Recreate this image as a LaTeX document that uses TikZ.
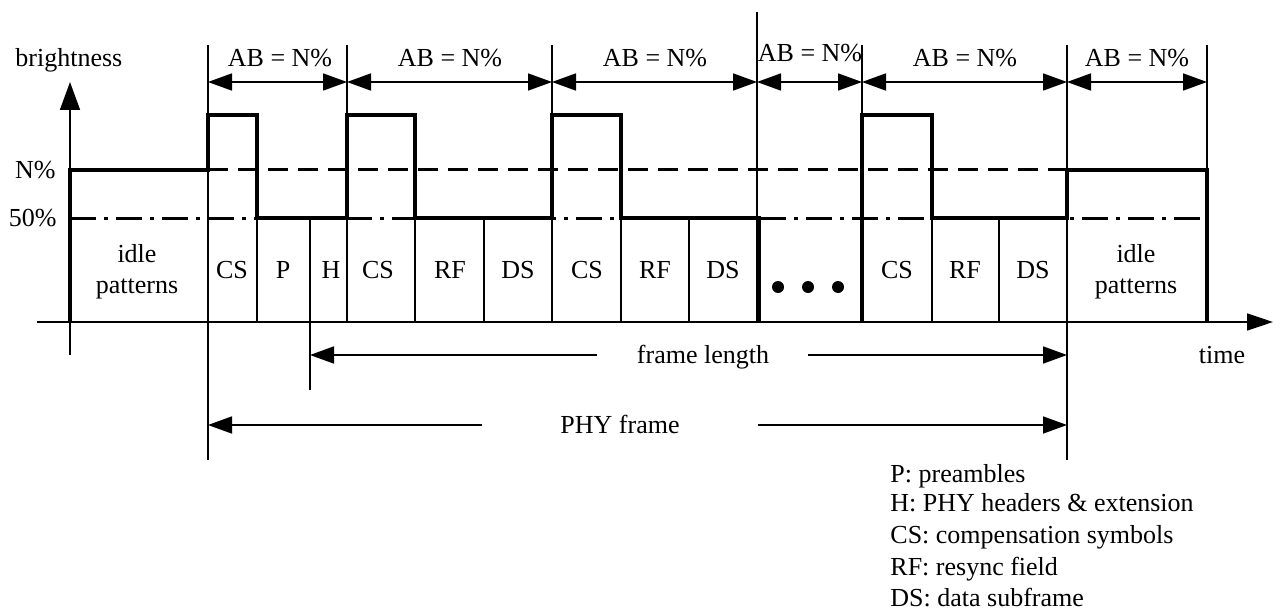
\documentclass[tikz,border=0pt]{standalone}
\usepackage{fontspec}
\setmainfont{Liberation Serif}
\usetikzlibrary{arrows.meta}
\begin{document}
\begin{tikzpicture}[x=0.5pt,y=-0.5pt,
  every node/.style={font=\fontsize{13pt}{15.5pt}\selectfont, inner sep=0pt},
  thinln/.style={line width=0.8pt},
  wave/.style={line width=2pt, line join=miter},
  dimarrow/.style={line width=0.9pt, -{Triangle[length=12pt,width=8.5pt]}},
  dimboth/.style={line width=0.9pt, {Triangle[length=12pt,width=8.5pt]}-{Triangle[length=12pt,width=8.5pt]}},
  lvl/.style={line width=1.5pt}
]
\useasboundingbox (0,0) rectangle (1280,610);

% ---- reference levels
\draw[lvl, dash pattern=on 10pt off 5pt] (208,170) -- (1207,170);
\draw[lvl, dash pattern=on 13pt off 4pt on 2pt off 4pt] (70,218) -- (1207,218);

% ---- axes
\coordinate (ybot) at (70,355);
\coordinate (ytop) at (70,82);
\coordinate (xl) at (37,322);
\coordinate (xr) at (1273,322);
\draw[thinln, -{Triangle[length=14pt,width=10pt]}] (ybot) -- (ytop);
\draw[thinln, -{Triangle[length=13pt,width=8.5pt]}] (xl) -- (xr);

% ---- boundary lines
\coordinate (b1t) at (208,45);  \coordinate (b1b) at (208,460);
\coordinate (b2t) at (347,45);  \coordinate (b2b) at (347,322);
\coordinate (b3t) at (552,45);  \coordinate (b3b) at (552,322);
\coordinate (b4t) at (757,12);  \coordinate (b4b) at (757,322);
\coordinate (b5t) at (862,45);  \coordinate (b5b) at (862,322);
\coordinate (b6t) at (1067,45); \coordinate (b6b) at (1067,460);
\coordinate (b7t) at (1207,45); \coordinate (b7b) at (1207,322);
\foreach \n in {1,...,7} \draw[thinln] (b\n t) -- (b\n b);

% ---- subfield separators
\foreach \x in {257,415,484,621,689,932,999}
  \draw[thinln] (\x,218) -- (\x,322);
\coordinate (hsep) at (310,218);
\coordinate (hsepb) at (310,390);
\draw[thinln] (hsep) -- (hsepb);

% ---- waveform
\draw[wave] (70,322) -- (70,170) -- (208,170) -- (208,115) -- (257,115) -- (257,218)
  -- (347,218) -- (347,115) -- (415,115) -- (415,218) -- (552,218) -- (552,115)
  -- (621,115) -- (621,218) -- (759,218) -- (759,322);
\draw[wave] (862,322) -- (862,115) -- (932,115) -- (932,218) -- (1067,218)
  -- (1067,170) -- (1207,170) -- (1207,322);

% ---- dots
\foreach \x in {778,808,838} \fill (\x,287) circle (3pt);

% ---- AB = N% dimensions
\coordinate (a1) at (208,82);
\coordinate (a2) at (347,82);
\coordinate (a3) at (552,82);
\coordinate (a4) at (757,82);
\coordinate (a5) at (862,82);
\coordinate (a6) at (1067,82);
\coordinate (a7) at (1207,82);
\draw[dimboth] (a1) -- (a2);
\draw[dimboth] (a2) -- (a3);
\draw[dimboth] (a3) -- (a4);
\draw[dimboth] (a4) -- (a5);
\draw[dimboth] (a5) -- (a6);
\draw[dimboth] (a6) -- (a7);
\node[anchor=base] (ab1) at (280,67) {AB = N\%};
\node[anchor=base] (ab2) at (450,67) {AB = N\%};
\node[anchor=base] (ab3) at (655,67) {AB = N\%};
\node[anchor=base] (ab4) at (810,62) {AB = N\%};
\node[anchor=base] (ab5) at (965,67) {AB = N\%};
\node[anchor=base] (ab6) at (1137,67) {AB = N\%};

% ---- axis labels
\node[anchor=base west] (bright) at (15,67) {brightness};
\node[anchor=base east] (nlev) at (56,178) {N\%};
\node[anchor=base east] (hlev) at (57,227) {50\%};
\node[anchor=base] (time) at (1222,363) {time};

% ---- field labels
\node[anchor=base] (idle1a) at (137,262) {idle};
\node[anchor=base] (idle1b) at (137,293) {patterns};
\node[anchor=base] (idle2a) at (1136,262) {idle};
\node[anchor=base] (idle2b) at (1136,293) {patterns};
\node[anchor=base] (f1) at (232,278) {CS};
\node[anchor=base] (f2) at (283,278) {P};
\node[anchor=base] (f3) at (331,278) {H};
\node[anchor=base] (f4) at (378,278) {CS};
\node[anchor=base] (f5) at (450,278) {RF};
\node[anchor=base] (f6) at (518,278) {DS};
\node[anchor=base] (f7) at (587,278) {CS};
\node[anchor=base] (f8) at (655,278) {RF};
\node[anchor=base] (f9) at (723,278) {DS};
\node[anchor=base] (f10) at (897,278) {CS};
\node[anchor=base] (f11) at (965,278) {RF};
\node[anchor=base] (f12) at (1033,278) {DS};

% ---- frame length
\node[anchor=base] (fl) at (703,363) {frame length};
\coordinate (flL) at (310,355);
\coordinate (flLs) at (597,355);
\coordinate (flR) at (1067,355);
\coordinate (flRs) at (808,355);
\draw[dimarrow] (flLs) -- (flL);
\draw[dimarrow] (flRs) -- (flR);

% ---- PHY frame
\node[anchor=base] (pf) at (620,433) {PHY frame};
\coordinate (pfL) at (208,425);
\coordinate (pfLs) at (482,425);
\coordinate (pfR) at (1067,425);
\coordinate (pfRs) at (758,425);
\draw[dimarrow] (pfLs) -- (pfL);
\draw[dimarrow] (pfRs) -- (pfR);

% ---- legend
\node[anchor=base west] (lg1) at (890,482) {P: preambles};
\node[anchor=base west] (lg2) at (890,511) {H: PHY headers \& extension};
\node[anchor=base west] (lg3) at (890,543) {CS: compensation symbols};
\node[anchor=base west] (lg4) at (890,575) {RF: resync field};
\node[anchor=base west] (lg5) at (890,606) {DS: data subframe};
\end{tikzpicture}
\end{document}
